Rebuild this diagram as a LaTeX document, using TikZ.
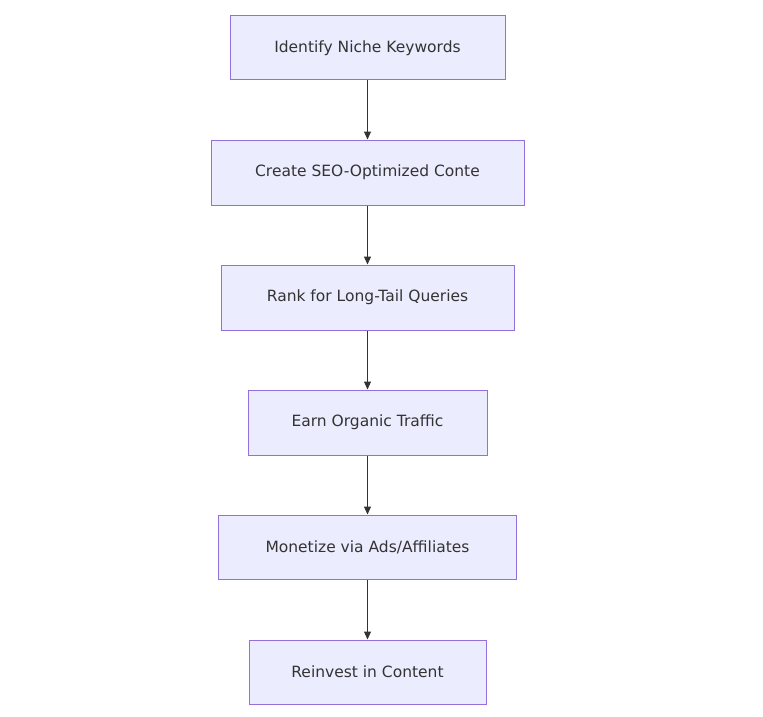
\documentclass[tikz,border=0pt]{standalone}
\usepackage{fontspec}
\setmainfont{DejaVu Sans}
\usetikzlibrary{arrows.meta}
\definecolor{boxfill}{HTML}{ECECFF}
\definecolor{boxline}{HTML}{9370DB}
\definecolor{arr}{HTML}{333333}
\begin{document}
\begin{tikzpicture}[x=1pt,y=-1pt,
  box/.style={draw=boxline,fill=boxfill,line width=1pt,inner sep=0pt,text=arr,font=\fontsize{15.5}{18}\selectfont},
  conn/.style={draw=arr,line width=1pt,-{Triangle[length=8pt,width=7pt]}}]
\useasboundingbox (0,0) rectangle (763,717);
\node[box,minimum width=275,minimum height=64] (a) at (367.5,48) {Identify Niche Keywords};
\node[box,minimum width=313,minimum height=65] (b) at (367.5,172.5) {Create SEO-Optimized Conte};
\node[box,minimum width=293,minimum height=65] (c) at (367.5,297.5) {Rank for Long-Tail Queries};
\node[box,minimum width=239,minimum height=65] (d) at (367.5,422.5) {Earn Organic Traffic};
\node[box,minimum width=298,minimum height=64] (e) at (367.5,547) {Monetize via Ads/Affiliates};
\node[box,minimum width=237,minimum height=64] (f) at (367.5,672) {Reinvest in Content};
\draw[conn] (a) -- (b);
\draw[conn] (b) -- (c);
\draw[conn] (c) -- (d);
\draw[conn] (d) -- (e);
\draw[conn] (e) -- (f);
\end{tikzpicture}
\end{document}
